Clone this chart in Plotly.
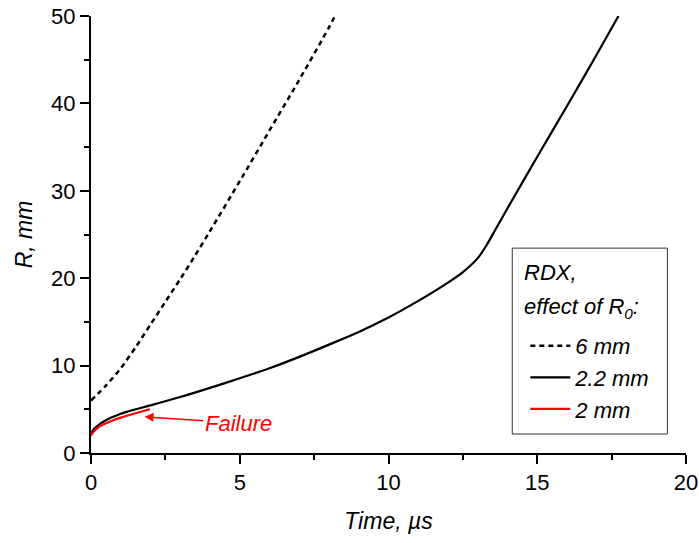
import plotly.graph_objects as go

# 6 mm charge radius (dashed)
t_6mm = [0, 0.5, 1.0, 1.5, 2.0, 2.5, 3.0, 3.5, 4.0, 5.0, 6.0, 7.0, 8.0, 8.2]
r_6mm = [6.0, 7.7, 9.7, 12.1, 14.7, 17.3, 19.9, 22.6, 25.4, 31.1, 36.9, 42.7, 48.7, 50.0]

# 2.2 mm charge radius (solid black)
t_22mm = [0, 0.1, 0.25, 0.5, 0.75, 1.0, 1.5, 2.0, 3.0, 4.0, 5.0, 6.0, 7.0, 8.0, 9.0,
          10.0, 11.0, 12.0, 12.5, 13.0, 13.3, 13.6, 14.0, 15.0, 16.0, 17.0, 17.73]
r_22mm = [2.2, 2.75, 3.2, 3.75, 4.15, 4.5, 5.0, 5.45, 6.4, 7.45, 8.55, 9.7, 11.0, 12.4, 13.85,
          15.5, 17.4, 19.5, 20.7, 22.3, 23.8, 25.6, 28.0, 33.9, 39.7, 45.6, 50.0]

# 2 mm charge radius (red, failure)
t_2mm = [0, 0.1, 0.25, 0.5, 0.75, 1.0, 1.5, 1.98]
r_2mm = [2.0, 2.5, 2.95, 3.4, 3.75, 4.05, 4.55, 5.0]

legend_title_lines = ["RDX,", "effect of R<sub>0</sub>:"]

FONT = "Arial, Liberation Sans, sans-serif"

fig = go.Figure()
fig.add_trace(go.Scatter(x=t_6mm, y=r_6mm, mode="lines", name="6 mm",
                         line=dict(color="black", width=2.5, dash="5px,4px",
                                   shape="spline", smoothing=0.8)))
fig.add_trace(go.Scatter(x=t_22mm, y=r_22mm, mode="lines", name="2.2 mm",
                         line=dict(color="black", width=2.2, shape="spline", smoothing=0.8)))
fig.add_trace(go.Scatter(x=t_2mm, y=r_2mm, mode="lines", name="2 mm",
                         line=dict(color="#ff0000", width=2.2, shape="spline", smoothing=0.8)))

fig.add_annotation(x=1.8, y=4.15, xref="x", yref="y",
                   ax=4.95, ay=3.43, axref="x", ayref="y",
                   text="Failure", showarrow=True,
                   arrowhead=2, arrowsize=1.2, arrowwidth=1.5, arrowcolor="#ff0000",
                   font=dict(family=FONT, size=22, color="#ff0000", style="italic"))

# legend frame and title
fig.add_shape(type="rect", xref="paper", yref="paper",
              x0=0.708, x1=0.9687, y0=0.0434, y1=0.4688,
              line=dict(color="#333333", width=1), fillcolor="rgba(0,0,0,0)", layer="above")
for txt, yy in zip(legend_title_lines, [0.4139, 0.3316]):
    fig.add_annotation(x=0.7245, y=yy, xref="paper", yref="paper", xanchor="left",
                       yanchor="middle", text=txt, showarrow=False,
                       font=dict(family=FONT, size=22, color="black", style="italic"))

axis_common = dict(showline=True, linecolor="black", linewidth=2, mirror=False,
                   showgrid=False, zeroline=False, ticks="outside", ticklen=9,
                   tickwidth=2, tickcolor="black", automargin=False,
                   tickfont=dict(family=FONT, size=22, color="black"))

fig.update_xaxes(range=[0, 20], tickvals=[0, 5, 10, 15, 20],
                 minor=dict(ticks="outside", ticklen=5, tickwidth=2, tickcolor="black", dtick=2.5),
                 title=dict(text="Time, <i>\u00b5</i>s", standoff=18,
                            font=dict(family=FONT, size=23, color="black", style="italic")),
                 **axis_common)
fig.update_yaxes(range=[0, 50], tickvals=[0, 10, 20, 30, 40, 50],
                 minor=dict(ticks="outside", ticklen=5, tickwidth=2, tickcolor="black", dtick=5),
                 title=dict(text="R, mm", standoff=12,
                            font=dict(family=FONT, size=23, color="black", style="italic")),
                 **axis_common)

fig.update_layout(
    width=699, height=543,
    margin=dict(l=91, r=13, t=16, b=90, autoexpand=False),
    paper_bgcolor="white", plot_bgcolor="white",
    legend=dict(x=0.73, y=0.293, xanchor="left", yanchor="top",
                borderwidth=0, bgcolor="rgba(0,0,0,0)",
                font=dict(family=FONT, size=22, color="black", style="italic"),
                tracegroupgap=0, itemwidth=40),
    showlegend=True,
)

fig.write_html("out.html")
